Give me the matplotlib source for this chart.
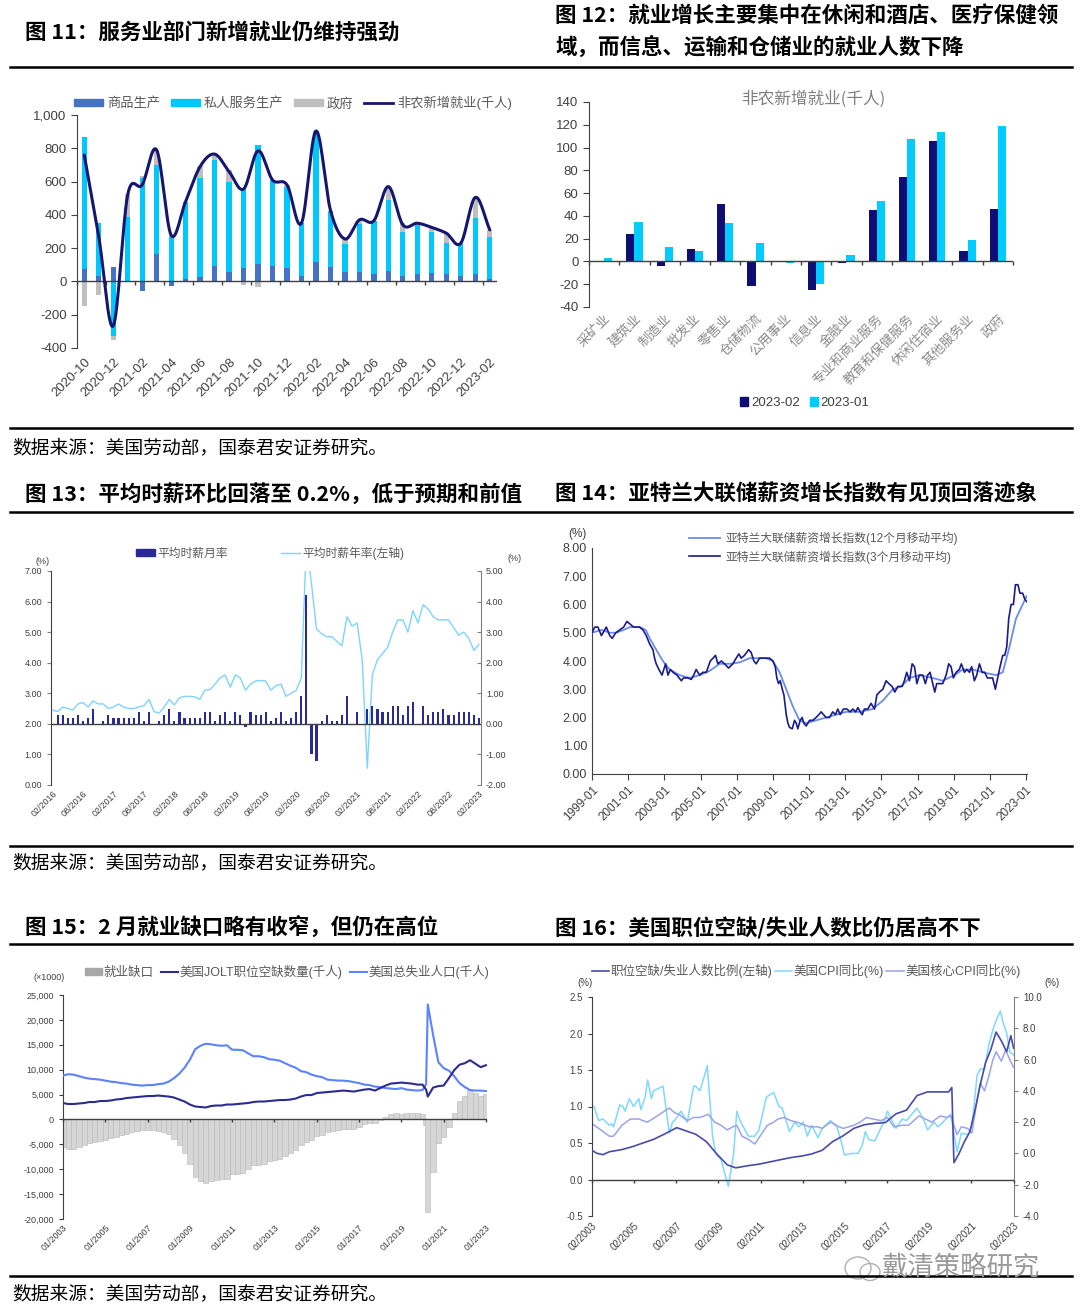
import numpy as np
import matplotlib
matplotlib.use('Agg')
import matplotlib.pyplot as plt
from matplotlib.patches import Patch, Ellipse
from matplotlib.lines import Line2D
import matplotlib.transforms as mtrans
from matplotlib.ticker import FuncFormatter

plt.rcParams['font.family'] = ['Liberation Sans', 'Noto Sans CJK SC', 'DejaVu Sans']
plt.rcParams['axes.unicode_minus'] = False

# ---------------- DATA ----------------
# Fig 11
months11 = ['2020-10','2020-11','2020-12','2021-01','2021-02','2021-03','2021-04','2021-05','2021-06','2021-07',
            '2021-08','2021-09','2021-10','2021-11','2021-12','2022-01','2022-02','2022-03','2022-04','2022-05',
            '2022-06','2022-07','2022-08','2022-09','2022-10','2022-11','2022-12','2023-01','2023-02']
goods11 = [76,34,84,-5,-55,164,-30,12,28,90,58,80,102,95,80,30,118,88,58,58,45,65,35,42,52,42,35,45,12]
services11 = [790,316,-330,385,620,536,264,468,596,640,542,480,718,515,490,320,772,338,168,288,321,425,265,298,242,188,195,339,252]
govt11 = [-150,-80,-20,140,15,90,15,0,70,30,70,-20,-35,0,10,0,16,0,24,24,0,80,50,10,30,60,0,122,46]
nfp11 = [760,270,-268,520,580,790,278,480,690,765,660,555,785,610,580,350,904,428,255,370,365,570,340,350,324,290,230,505,310]

# Fig 12
sectors12 = ['采矿业','建筑业','制造业','批发业','零售业','仓储物流','公用事业','信息业','金融业',
             '专业和商业服务','教育和保健服务','休闲住宿业','其他服务业','政府']
feb23 = [0.0, 24, -4, 11, 50, -21.5, -0.9, -25, -1, 45, 74, 105.5, 9, 46]
jan23 = [2.6, 35, 13, 9, 34, 16.4, -1.7, -20, 5.3, 53, 107.5, 114, 19, 118.5]

# Fig 13 (monthly 02/2016 .. 02/2023)
ahe_yoy = [2.45,2.40,2.55,2.50,2.45,2.65,2.70,2.55,2.75,2.65,2.65,2.50,2.55,2.65,2.55,2.50,2.50,2.55,2.60,2.80,
           2.40,2.35,2.55,2.80,2.62,2.85,2.90,2.90,2.88,2.80,3.10,3.12,3.30,3.50,3.60,3.20,3.60,3.50,3.10,3.30,
           3.40,3.42,3.40,3.10,3.25,3.30,2.90,3.00,3.10,3.50,7.90,6.60,5.10,4.95,4.85,4.85,4.70,4.55,5.50,5.20,
           5.30,4.10,0.55,3.60,4.10,4.30,4.50,5.00,5.40,5.40,5.00,5.70,5.30,5.90,5.75,5.50,5.40,5.40,5.40,5.15,
           4.90,5.00,4.80,4.40,4.60]
ahe_mom = [0.3,0.3,0.2,0.2,0.3,0.1,0.2,0.5,0.0,0.1,0.3,0.2,0.2,0.2,0.2,0.2,0.4,0.1,0.4,0.0,
           0.1,0.3,0.5,0.1,0.4,0.2,0.2,0.2,0.2,0.4,0.4,0.1,0.3,0.4,0.1,0.4,0.3,-0.1,0.4,0.3,
           0.3,0.4,0.1,0.2,0.4,0.1,0.2,0.4,0.9,4.2,-1.0,-1.2,0.1,0.3,0.1,0.1,0.3,0.9,0.0,0.4,
           0.0,0.5,0.6,0.5,0.4,0.4,0.6,0.6,0.3,0.6,0.7,0.0,0.6,0.3,0.4,0.4,0.5,0.3,0.3,0.4,
           0.4,0.4,0.3,0.2]
labels13 = ['02/2016','08/2016','02/2017','08/2017','02/2018','08/2018','02/2019','08/2019','02/2020',
            '08/2020','02/2021','08/2021','02/2022','08/2022','02/2023']

# Fig 14 (decimal year, value)
wgt_3m = [(1999.00,5.0),(1999.15,5.2),(1999.33,5.2),(1999.52,4.9),(1999.61,5.0),(1999.79,5.2),(1999.98,4.9),
          (2000.12,4.8),(2000.31,5.0),(2000.53,5.1),(2000.75,5.2),(2000.93,5.4),(2001.12,5.3),(2001.30,5.2),
          (2001.45,5.2),(2001.63,5.2),(2001.82,5.1),(2002.00,4.9),(2002.19,4.6),(2002.37,4.4),(2002.46,4.1),
          (2002.55,3.9),(2002.70,3.7),(2002.87,3.5),(2003.07,3.9),(2003.20,3.5),(2003.33,3.7),(2003.48,3.6),
          (2003.70,3.5),(2003.94,3.3),(2004.06,3.4),(2004.30,3.4),(2004.49,3.35),(2004.62,3.5),(2004.76,3.7),
          (2004.95,3.5),(2005.13,3.6),(2005.32,3.6),(2005.54,4.0),(2005.69,4.1),(2005.83,4.2),(2005.96,3.9),
          (2006.15,4.0),(2006.33,3.9),(2006.55,3.75),(2006.79,3.9),(2006.97,4.1),(2007.12,4.25),(2007.25,4.1),
          (2007.43,4.2),(2007.66,4.4),(2007.80,4.3),(2007.95,4.0),(2008.08,3.9),(2008.26,4.1),(2008.54,4.1),
          (2008.82,4.1),(2009.00,4.0),(2009.13,3.8),(2009.22,3.4),(2009.31,3.2),(2009.41,3.3),(2009.52,3.0),
          (2009.61,2.8),(2009.74,2.1),(2009.83,1.8),(2009.92,1.65),(2010.07,1.6),(2010.20,1.9),(2010.29,1.8),
          (2010.38,1.6),(2010.51,1.9),(2010.62,2.0),(2010.71,1.8),(2010.84,1.7),(2011.03,1.9),(2011.21,1.9),
          (2011.39,2.0),(2011.54,2.1),(2011.67,2.2),(2011.80,2.1),(2011.95,2.0),(2012.13,2.0),(2012.31,2.2),
          (2012.46,2.1),(2012.59,2.3),(2012.72,2.1),(2012.90,2.3),(2013.09,2.3),(2013.27,2.2),(2013.42,2.3),
          (2013.57,2.2),(2013.70,2.35),(2013.83,2.2),(2013.94,2.1),(2014.06,2.3),(2014.25,2.3),(2014.43,2.5),
          (2014.62,2.3),(2014.75,2.8),(2014.89,2.9),(2015.08,3.0),(2015.26,3.3),(2015.41,3.2),(2015.59,3.1),
          (2015.74,2.9),(2015.91,3.1),(2016.15,3.1),(2016.27,3.3),(2016.40,3.6),(2016.55,3.3),(2016.70,3.9),
          (2016.83,3.8),(2016.96,3.2),(2017.10,3.5),(2017.29,3.5),(2017.43,3.2),(2017.56,3.5),(2017.69,3.6),
          (2017.84,3.2),(2017.95,2.9),(2018.06,3.2),(2018.21,3.2),(2018.39,3.2),(2018.58,3.5),(2018.72,3.9),
          (2018.85,3.8),(2018.98,3.4),(2019.13,3.6),(2019.31,3.7),(2019.42,3.9),(2019.59,3.6),(2019.72,3.7),
          (2019.87,3.6),(2019.99,3.8),(2020.14,3.3),(2020.27,3.5),(2020.42,3.9),(2020.57,3.6),(2020.71,3.6),
          (2020.86,3.4),(2021.01,3.4),(2021.15,3.4),(2021.30,3.0),(2021.43,3.4),(2021.56,3.8),(2021.71,4.2),
          (2021.82,4.2),(2021.93,4.5),(2022.04,5.5),(2022.17,6.0),(2022.30,6.0),(2022.41,6.7),(2022.55,6.7),
          (2022.66,6.4),(2022.81,6.4),(2022.92,6.2),(2023.03,6.1)]
wgt_12m = [(1999.00,5.0),(1999.52,5.1),(1999.98,5.0),(2000.34,5.0),(2000.75,5.1),(2001.08,5.2),(2001.63,5.2),
           (2001.97,5.1),(2002.19,4.8),(2002.55,4.4),(2002.92,4.0),(2003.29,3.7),(2003.84,3.5),(2004.40,3.4),
           (2004.95,3.5),(2005.50,3.65),(2006.05,3.9),(2006.61,3.9),(2007.16,3.95),(2007.71,4.1),(2008.63,4.1),
           (2009.00,4.0),(2009.37,3.6),(2009.74,3.0),(2010.10,2.4),(2010.47,1.9),(2010.84,1.8),(2011.39,1.9),
           (2011.95,2.0),(2012.50,2.1),(2013.05,2.2),(2013.79,2.2),(2014.52,2.3),(2015.08,2.6),(2015.63,3.0),
           (2016.09,3.1),(2016.55,3.4),(2017.10,3.5),(2017.84,3.4),(2018.39,3.3),(2019.04,3.5),(2019.50,3.7),
           (2020.05,3.7),(2020.60,3.6),(2021.34,3.5),(2021.71,3.6),(2022.08,4.5),(2022.44,5.5),(2022.81,6.0),
           (2023.03,6.3)]

# Fig 15 (quarterly, thousands; extra point Mar-2020)
years15 = [y + q / 4 for y in range(2003, 2023) for q in range(4)] + [2023.0]
years15.insert(69, 2020.17)
unemp15 = [8800,9100,9000,8700, 8400,8200,8100,8000, 7800,7600,7500,7300, 7200,7000,6900,6800,
           6900,6900,7100,7200, 7600,8300,9200,10400, 12000,14100,14800,15200, 15100,14900,14800,14900,
           14000,14000,13900,13300, 12700,12700,12500,12100, 12000,11800,11300,10800, 10400,9700,9500,9000,
           8700,8500,8000,7900, 7800,7800,7700,7500, 7300,7000,6900,6600, 6500,6300,6200,6100,
           6300,6000,5900,5800, 5900,7100,23100,17000,11500, 10300,9800,8700,7300, 6500,5900,5800,5800, 5700]
jolts15 = [3300,3100,3100,3200, 3300,3500,3500,3700, 3700,3800,4000,4100, 4300,4400,4500,4600,
           4700,4700,4800,4700, 4600,4400,4000,3600, 3000,2600,2500,2400, 2700,2800,2800,3000,
           3000,3100,3200,3300, 3500,3600,3600,3700, 3800,3900,3900,4000, 4200,4600,4900,4900,
           5300,5400,5500,5600, 5700,5800,5700,5600, 5800,6000,6100,5800, 6300,6800,7200,7300,
           7400,7300,7200,7000, 7000,6000,4600,6400,6700, 6800,8300,9900,11000, 11300,11900,11200,10500, 10900]
gap15 = [-5500,-6000,-5900,-5500, -5100,-4700,-4600,-4300, -4100,-3800,-3500,-3200, -2900,-2600,-2400,-2200,
         -2200,-2200,-2300,-2500, -3000,-3900,-5200,-6800, -9000,-11500,-12300,-12800, -12400,-12100,-12000,-11900,
         -11000,-10900,-10700,-10000, -9200,-9100,-8900,-8400, -8200,-7900,-7400,-6800, -6200,-5100,-4600,-4100,
         -3400,-3100,-2500,-2300, -2100,-2000,-2000,-1900, -1500,-1000,-800,-800, -200,500,1000,1200,
         1100,1300,1300,1200, 1100,-1100,-18500,-10600,-4800, -3500,-1500,1200,3700, 4800,6000,5400,4700, 5200]

# Fig 16 (decimal year, value)
ratio16 = [(2003.08,0.40),(2003.3,0.36),(2003.6,0.34),(2003.9,0.38),(2004.5,0.41),(2005.0,0.45),(2005.5,0.50),
           (2006.0,0.55),(2006.5,0.62),(2006.9,0.68),(2007.1,0.71),(2007.5,0.67),(2008.0,0.62),(2008.5,0.52),
           (2009.0,0.35),(2009.5,0.20),(2009.9,0.16),(2010.5,0.19),(2011.0,0.21),(2011.5,0.24),(2012.0,0.27),
           (2012.5,0.30),(2013.0,0.32),(2013.5,0.35),(2014.0,0.40),(2014.5,0.52),(2015.0,0.60),(2015.5,0.70),
           (2016.0,0.75),(2016.5,0.77),(2017.0,0.78),(2017.5,0.90),(2018.0,0.95),(2018.5,1.15),(2019.0,1.20),
           (2019.5,1.20),(2020.0,1.20),(2020.15,1.26),(2020.25,0.23),(2020.5,0.36),(2020.75,0.52),(2021.0,0.65),
           (2021.25,0.95),(2021.5,1.30),(2021.75,1.60),(2022.0,1.78),(2022.25,2.02),(2022.5,1.90),(2022.75,1.75),
           (2022.95,1.97),(2023.08,1.80)]
cpi16 = [(2003.08,3.0),(2003.17,3.0),(2003.4,2.1),(2003.6,2.2),(2003.9,1.8),(2004.0,1.9),(2004.1,1.7),(2004.4,3.1),
         (2004.55,3.0),(2004.65,2.7),(2004.85,3.5),(2005.05,3.0),(2005.3,3.5),(2005.4,2.8),(2005.6,3.6),(2005.72,4.7),
         (2005.9,3.5),(2006.0,4.0),(2006.45,4.3),(2006.75,1.3),(2006.9,2.0),(2007.0,2.1),(2007.3,2.7),(2007.6,2.0),
         (2007.9,4.3),(2008.0,4.3),(2008.2,4.0),(2008.55,5.6),(2008.8,1.1),(2008.95,0.0),(2009.2,-0.4),(2009.55,-2.1),
         (2009.8,0.0),(2009.95,2.7),(2010.1,2.1),(2010.5,1.1),(2010.8,1.1),(2011.0,1.5),(2011.35,3.6),(2011.7,3.9),
         (2011.95,3.0),(2012.1,2.9),(2012.45,1.4),(2012.7,2.0),(2012.9,1.7),(2013.1,2.0),(2013.3,1.1),(2013.5,1.8),
         (2013.8,1.0),(2014.0,1.6),(2014.4,2.1),(2014.7,1.7),(2014.9,0.8),(2015.05,-0.1),(2015.4,0.0),(2015.7,0.0),
         (2015.9,0.5),(2016.05,1.4),(2016.2,0.9),(2016.5,0.8),(2016.95,2.1),(2017.1,2.7),(2017.5,1.6),(2017.8,2.2),
         (2018.0,2.1),(2018.5,2.9),(2018.8,2.2),(2019.0,1.5),(2019.3,2.0),(2019.5,1.7),(2019.95,2.3),(2020.1,2.5),
         (2020.4,0.1),(2020.6,1.3),(2020.9,1.2),(2021.1,1.7),(2021.35,5.0),(2021.5,5.4),(2021.7,5.4),(2021.9,6.9),
         (2022.1,7.9),(2022.25,8.5),(2022.45,9.1),(2022.6,8.3),(2022.75,7.7),(2022.9,6.5),(2023.08,6.3)]
core16 = [(2003.08,1.9),(2003.4,1.6),(2003.9,1.1),(2004.1,1.1),(2004.5,1.8),(2004.9,2.2),(2005.3,2.2),(2005.7,2.0),
          (2005.95,2.2),(2006.4,2.6),(2006.75,2.9),(2007.0,2.6),(2007.2,2.5),(2007.6,2.1),(2007.9,2.3),(2008.2,2.3),
          (2008.6,2.5),(2008.9,2.0),(2009.2,1.8),(2009.5,1.5),(2009.75,1.7),(2009.95,1.8),(2010.2,1.1),(2010.5,0.9),
          (2010.8,0.6),(2011.0,1.0),(2011.4,1.8),(2011.7,2.0),(2011.9,2.2),(2012.2,2.3),(2012.5,2.1),(2012.8,2.0),
          (2013.0,1.9),(2013.4,1.7),(2013.8,1.7),(2014.0,1.6),(2014.4,2.0),(2014.8,1.7),(2015.0,1.6),(2015.5,1.8),
          (2015.8,2.0),(2016.1,2.3),(2016.4,2.2),(2016.8,2.1),(2017.1,2.3),(2017.4,1.7),(2017.8,1.8),(2018.1,1.8),
          (2018.6,2.4),(2018.9,2.2),(2019.2,2.0),(2019.6,2.4),(2019.9,2.3),(2020.1,2.4),(2020.4,1.2),(2020.6,1.7),
          (2020.9,1.6),(2021.1,1.3),(2021.3,3.0),(2021.5,4.5),(2021.7,4.0),(2021.9,4.9),(2022.1,6.0),(2022.25,6.5),
          (2022.5,5.9),(2022.7,6.6),(2022.9,6.0),(2023.08,5.5)]

# ---------------- LAYOUT ----------------
W, H = 1080, 1316
fig = plt.figure(figsize=(W / 100, H / 100), dpi=100)
CJK = 'Noto Sans CJK SC'
GRAY_TXT = '#595959'
AX_COL = '#404040'


def fx(x):
    return x / W


def fy(y):
    return 1 - y / H


def ax_px(x0, y0, x1, y1):
    return fig.add_axes([x0 / W, 1 - y1 / H, (x1 - x0) / W, (y1 - y0) / H])


def hrule(y, lw=1.8):
    fig.add_artist(Line2D([fx(10), fx(1072)], [fy(y), fy(y)], color='black', lw=lw))


def zero_axis(ax, y0, ticks, length_px=4, color=AX_COL, lw=1.0):
    ax.axhline(y0, color=color, lw=lw, zorder=4)
    ymin, ymax = ax.get_ylim()
    f = (y0 - ymin) / (ymax - ymin)
    dl = length_px / (ax.get_position().height * H)
    tr = mtrans.blended_transform_factory(ax.transData, ax.transAxes)
    ax.vlines(ticks, f - dl, f, transform=tr, color=color, lw=lw, zorder=4, clip_on=False)


def style_axes(ax, left=True, bottom=False, right=False, col=AX_COL):
    for s in ['top', 'right', 'bottom', 'left']:
        ax.spines[s].set_visible(False)
    if left:
        ax.spines['left'].set_visible(True)
        ax.spines['left'].set_color(col)
    if bottom:
        ax.spines['bottom'].set_visible(True)
        ax.spines['bottom'].set_color(col)
    if right:
        ax.spines['right'].set_visible(True)
        ax.spines['right'].set_color(col)
    ax.set_facecolor('none')


def catmull(xs, ys, n=16):
    P = np.vstack([np.asarray(xs, float), np.asarray(ys, float)]).T
    P = np.vstack([2 * P[0] - P[1], P, 2 * P[-1] - P[-2]])
    out = []
    t = np.linspace(0, 1, n, endpoint=False)[:, None]
    for i in range(1, len(P) - 2):
        p0, p1, p2, p3 = P[i - 1], P[i], P[i + 1], P[i + 2]
        pts = 0.5 * ((2 * p1) + (-p0 + p2) * t + (2 * p0 - 5 * p1 + 4 * p2 - p3) * t ** 2
                     + (-p0 + 3 * p1 - 3 * p2 + p3) * t ** 3)
        out.append(pts)
    out.append(P[-2][None, :])
    out = np.vstack(out)
    return out[:, 0], out[:, 1]


def xlabels(ax, pos, labels, size, pad=3, color='#404040'):
    ax.set_xticks(pos)
    ax.set_xticklabels(labels, rotation=45, ha='right', rotation_mode='anchor', fontsize=size, color=color)
    ax.tick_params(axis='x', length=0, pad=pad)


# ---------------- titles, rules, sources ----------------
TS = 15.5
fig.text(fx(25), fy(33), '图 11：服务业部门新增就业仍维持强劲', fontsize=TS, weight='bold', family=CJK, va='center')
fig.text(fx(555), fy(15), '图 12：就业增长主要集中在休闲和酒店、医疗保健领', fontsize=TS, weight='bold', family=CJK, va='center')
fig.text(fx(555), fy(48), '域，而信息、运输和仓储业的就业人数下降', fontsize=TS, weight='bold', family=CJK, va='center')
fig.text(fx(25), fy(494), '图 13：平均时薪环比回落至 0.2%，低于预期和前值', fontsize=TS, weight='bold', family=CJK, va='center')
fig.text(fx(555), fy(494), '图 14：亚特兰大联储薪资增长指数有见顶回落迹象', fontsize=TS, weight='bold', family=CJK, va='center')
fig.text(fx(25), fy(928), '图 15：2 月就业缺口略有收窄，但仍在高位', fontsize=TS, weight='bold', family=CJK, va='center')
fig.text(fx(555), fy(928), '图 16：美国职位空缺/失业人数比仍居高不下', fontsize=TS, weight='bold', family=CJK, va='center')
for yy in [67, 428, 512, 846, 944, 1276]:
    hrule(yy)
for yy in [448, 863, 1294]:
    fig.text(fx(12), fy(yy), '数据来源：美国劳动部，国泰君安证券研究。', fontsize=13.5, family=CJK, va='center')

# ---------------- Fig 11 ----------------
ax = ax_px(77, 115, 497, 348)
n11 = len(months11)
x11 = np.arange(n11)
c_goods, c_serv, c_gov, c_nfp = '#4472C4', '#00C8FF', '#BFBFBF', '#16166E'
pos_b = np.zeros(n11)
neg_b = np.zeros(n11)
for vals, col in [(goods11, c_goods), (services11, c_serv), (govt11, c_gov)]:
    v = np.array(vals, float)
    bottom = np.where(v >= 0, pos_b, neg_b)
    ax.bar(x11, v, bottom=bottom, width=0.36, color=col, zorder=2)
    pos_b += np.where(v >= 0, v, 0)
    neg_b += np.where(v < 0, v, 0)
sx, sy = catmull(x11, nfp11)
ax.plot(sx, sy, color=c_nfp, lw=2.2, zorder=5, solid_capstyle='round')
ax.set_xlim(-0.5, n11 - 0.5)
ax.set_ylim(-400, 1000)
ax.set_yticks(np.arange(-400, 1001, 200))
ax.yaxis.set_major_formatter(FuncFormatter(lambda v, p: f'{int(v):,}'))
ax.tick_params(axis='y', labelsize=9.5, length=4, color=AX_COL, labelcolor='#404040')
style_axes(ax)
xlabels(ax, x11[::2], months11[::2], 9.5, pad=6)
zero_axis(ax, 0, np.arange(-0.5, n11, 2))
ax.legend(handles=[Patch(color=c_goods), Patch(color=c_serv), Patch(color=c_gov), Line2D([], [], color=c_nfp, lw=2)],
          labels=['商品生产', '私人服务生产', '政府', '非农新增就业(千人)'], loc='center',
          bbox_to_anchor=(fx(293), fy(103)), bbox_transform=fig.transFigure, ncol=4, frameon=False,
          fontsize=9.5, handlelength=2.2, handleheight=0.5, handletextpad=0.3, columnspacing=0.8,
          labelcolor=GRAY_TXT)

# ---------------- Fig 12 ----------------
ax = ax_px(589, 102, 1013, 307)
x12 = np.arange(len(sectors12))
c_feb, c_jan = '#0E0E75', '#00CCFF'
ax.bar(x12 - 0.135, feb23, width=0.27, color=c_feb, zorder=2)
ax.bar(x12 + 0.135, jan23, width=0.27, color=c_jan, zorder=2)
ax.set_xlim(-0.5, len(sectors12) - 0.5)
ax.set_ylim(-40, 140)
ax.set_yticks(np.arange(-40, 141, 20))
ax.tick_params(axis='y', labelsize=9.5, length=4, color=AX_COL, labelcolor='#404040')
style_axes(ax)
xlabels(ax, x12, sectors12, 9.5, pad=4, color='#8a8a8a')
zero_axis(ax, 0, np.arange(-0.5, len(sectors12), 1))
fig.text(fx(813), fy(99), '非农新增就业(千人)', fontsize=12, color='#7f7f7f', family=CJK, ha='center', va='center')
ax.legend(handles=[Patch(color=c_feb), Patch(color=c_jan)], labels=['2023-02', '2023-01'], loc='center',
          bbox_to_anchor=(fx(805), fy(403)), bbox_transform=fig.transFigure, ncol=2, frameon=False,
          fontsize=9.5, handlelength=0.6, handleheight=0.6, handletextpad=0.2, columnspacing=0.8,
          labelcolor='#404040')

# ---------------- Fig 13 ----------------
ax = ax_px(51, 571, 481, 785)
ax2 = ax.twinx()
m13 = np.arange(len(ahe_yoy))
c_bar13, c_line13 = '#2A2A96', '#7FD3FF'
ax.plot(m13, ahe_yoy, color=c_line13, lw=1.0, zorder=3)
ax2.bar(np.arange(1, len(ahe_mom) + 1), ahe_mom, width=0.42, color=c_bar13, zorder=2)
ax.set_xlim(-0.3, 84.4)
ax.set_ylim(0, 7)
ax2.set_ylim(-2, 5)
ax.set_yticks(np.arange(0, 7.01, 1))
ax2.set_yticks(np.arange(-2, 5.01, 1))
ax.yaxis.set_major_formatter(FuncFormatter(lambda v, p: f'{v:.2f}'))
ax2.yaxis.set_major_formatter(FuncFormatter(lambda v, p: f'{v:.2f}'))
ax.tick_params(axis='y', labelsize=6.5, length=3, color='#808080', labelcolor='#404040')
ax2.tick_params(axis='y', labelsize=6.5, length=3, color='#808080', labelcolor='#404040', direction='in')
style_axes(ax, col='#404040')
style_axes(ax2, left=False, right=True, col='#808080')
ax2.set_xticks([])
xlabels(ax, m13[::6], labels13, 6.5, pad=3)
ax2.axhline(0, color='#404040', lw=1.0, zorder=4)
fig.text(fx(35), fy(561), '(%)', fontsize=6.5, color='#404040', va='center')
fig.text(fx(507), fy(559), '(%)', fontsize=6.5, color='#404040', va='center')
ax2.legend(handles=[Patch(color=c_bar13), Line2D([], [], color=c_line13, lw=1)],
           labels=['平均时薪月率', '平均时薪年率(左轴)'], loc='center',
           bbox_to_anchor=(fx(270), fy(553)), bbox_transform=fig.transFigure, ncol=2, frameon=False,
           fontsize=8.5, handlelength=1.6, handleheight=0.5, handletextpad=0.2, columnspacing=4.5,
           labelcolor=GRAY_TXT)

# ---------------- Fig 14 ----------------
ax = ax_px(592, 548, 1027, 774)
c12m, c3m = '#6A8BF0', '#1B1B8A'
t12, v12 = zip(*wgt_12m)
t3, v3 = zip(*wgt_3m)
l1, = ax.plot(t12, v12, color=c12m, lw=1.3, zorder=3)
l2, = ax.plot(t3, v3, color=c3m, lw=1.2, zorder=4)
ax.set_xlim(1999.0, 2023.05)
ax.set_ylim(0, 8)
ax.set_yticks(np.arange(0, 8.01, 1))
ax.yaxis.set_major_formatter(FuncFormatter(lambda v, p: f'{v:.2f}'))
ax.tick_params(axis='y', labelsize=9, length=0, labelcolor='#404040')
style_axes(ax, bottom=True)
yrs14 = np.arange(1999, 2024, 2)
ax.set_xticks(yrs14)
ax.set_xticklabels([f'{y}-01' for y in yrs14], rotation=45, ha='right', rotation_mode='anchor',
                   fontsize=8.5, color='#404040')
ax.tick_params(axis='x', length=4, color=AX_COL, pad=3)
fig.text(fx(568), fy(534), '(%)', fontsize=8.5, color='#404040', va='center')
ax.legend(handles=[l1, l2], labels=['亚特兰大联储薪资增长指数(12个月移动平均)', '亚特兰大联储薪资增长指数(3个月移动平均)'],
          loc='upper left', bbox_to_anchor=(fx(683), fy(526)), bbox_transform=fig.transFigure, ncol=1,
          frameon=False, fontsize=8.5, handlelength=2.6, handletextpad=0.5, labelspacing=0.45,
          labelcolor=GRAY_TXT, borderpad=0)

# ---------------- Fig 15 ----------------
ax = ax_px(63, 995, 487, 1219)
c_gap, c_jolt, c_un = '#D6D6D6', '#2C2C90', '#5B82FF'
ax.bar(years15, gap15, width=0.25, color=c_gap, edgecolor='#B8B8B8', linewidth=0.4, zorder=2)
l_j, = ax.plot(years15, jolts15, color=c_jolt, lw=1.5, zorder=4)
l_u, = ax.plot(years15, unemp15, color=c_un, lw=1.5, zorder=3)
ax.set_xlim(2003.0, 2023.05)
ax.set_ylim(-20000, 25000)
ax.set_yticks(np.arange(-20000, 25001, 5000))
ax.yaxis.set_major_formatter(FuncFormatter(lambda v, p: f'{int(v):,}'))
ax.tick_params(axis='y', labelsize=6.5, length=3, color=AX_COL, labelcolor='#404040')
style_axes(ax)
yrs15 = np.arange(2003, 2024, 2)
xlabels(ax, yrs15, [f'01/{y}' for y in yrs15], 6.5, pad=3)
zero_axis(ax, 0, yrs15, length_px=3)
fig.text(fx(33), fy(978), '(×1000)', fontsize=6.5, color='#404040', va='center')
ax.legend(handles=[Patch(color='#A8A8A8'), l_j, l_u], labels=['就业缺口', '美国JOLT职位空缺数量(千人)', '美国总失业人口(千人)'],
          loc='center', bbox_to_anchor=(fx(287), fy(972)), bbox_transform=fig.transFigure, ncol=3,
          frameon=False, fontsize=9, handlelength=1.4, handleheight=0.5, handletextpad=0.1, columnspacing=0.6,
          labelcolor=GRAY_TXT)

# ---------------- Fig 16 ----------------
ax = ax_px(592, 997, 1014, 1216)
ax2 = ax.twinx()
c_ratio, c_cpi, c_core = '#4A4AAA', '#7FD8FF', '#9BA3EA'
tc, vc = zip(*cpi16)
tk, vk = zip(*core16)
tr_, vr = zip(*ratio16)
l_c, = ax2.plot(tc, vc, color=c_cpi, lw=1.1, zorder=2)
l_k, = ax2.plot(tk, vk, color=c_core, lw=1.1, zorder=3)
l_r, = ax.plot(tr_, vr, color=c_ratio, lw=1.2, zorder=3)
ax.set_xlim(2003.08, 2023.1)
ax.set_ylim(-0.5, 2.5)
ax2.set_ylim(-4, 10)
ax.set_yticks(np.arange(-0.5, 2.51, 0.5))
ax2.set_yticks(np.arange(-4, 10.01, 2))
ax.yaxis.set_major_formatter(FuncFormatter(lambda v, p: f'{v:.1f}'))
ax2.yaxis.set_major_formatter(FuncFormatter(lambda v, p: f'{v:.1f}'))
ax.tick_params(axis='y', labelsize=7, length=3, color=AX_COL, labelcolor='#404040')
ax2.tick_params(axis='y', labelsize=7, length=3, color='#808080', labelcolor='#404040')
style_axes(ax)
style_axes(ax2, left=False, right=True, col='#808080')
ax2.set_xticks([])
yrs16 = np.arange(2003.08, 2023.2, 2)
xlabels(ax, yrs16, [f'02/{int(y)}' for y in yrs16], 7, pad=3)
ax.set_zorder(ax2.get_zorder() + 1)
zero_axis(ax, 0, yrs16, length_px=3)
fig.text(fx(577), fy(983), '(%)', fontsize=7, color='#404040', va='center')
fig.text(fx(1044), fy(983), '(%)', fontsize=7, color='#404040', va='center')
ax.legend(handles=[l_r, l_c, l_k], labels=['职位空缺/失业人数比例(左轴)', '美国CPI同比(%)', '美国核心CPI同比(%)'],
          loc='center', bbox_to_anchor=(fx(806), fy(971)), bbox_transform=fig.transFigure, ncol=3,
          frameon=False, fontsize=9, handlelength=1.4, handletextpad=0.1, columnspacing=0.2,
          labelcolor=GRAY_TXT)

# watermark
fig.add_artist(Ellipse((fx(858), fy(1268)), 26 / W, 22 / H, transform=fig.transFigure, fill=False,
                       ec='#b0b0b0', lw=1.0))
fig.add_artist(Ellipse((fx(870), fy(1272)), 20 / W, 17 / H, transform=fig.transFigure, fill=False,
                       ec='#b0b0b0', lw=1.0))
fig.text(fx(882), fy(1268), '戴清策略研究', fontsize=19, color='#9a9a9a', family=CJK, va='center')

fig.savefig('out.png', dpi=100)
